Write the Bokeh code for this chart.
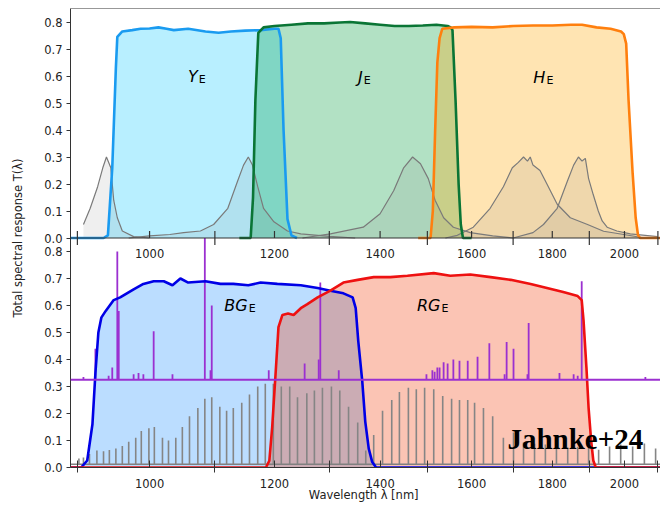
from bokeh.plotting import figure
from bokeh.models import Range1d, FixedTicker, CustomJSTickFormatter, PrintfTickFormatter, Span
from bokeh.core.properties import value
from bokeh.embed import file_html
from bokeh.resources import INLINE

# ---------------- data ----------------
X_MIN, X_MAX = 891, 2108
MAJOR_TICKS = [1000, 1200, 1400, 1600, 1800, 2000]
MINOR_TICKS = [900, 1100, 1300, 1500, 1700, 1900, 2100]
Y_TICKS = [0.0, 0.1, 0.2, 0.3, 0.4, 0.5, 0.6, 0.7, 0.8]

# top panel filters
YE_WL = [891, 935, 941, 947, 952, 954, 961, 975, 987, 1000, 1013, 1025, 1036, 1058, 1085, 1106, 1126, 1150, 1176, 1200, 1207, 1211, 1216, 1223, 1230, 1240]
YE_T = [0, 0, 0.01, 0.26, 0.63, 0.745, 0.765, 0.77, 0.775, 0.776, 0.78, 0.775, 0.77, 0.775, 0.765, 0.76, 0.765, 0.768, 0.77, 0.775, 0.775, 0.74, 0.4, 0.07, 0.01, 0]

JE_WL = [1140, 1159, 1163, 1167, 1172, 1181, 1200, 1230, 1260, 1290, 1320, 1340, 1370, 1400, 1430, 1460, 1490, 1520, 1545, 1552, 1556, 1563, 1570, 1575, 1580, 1600]
JE_T = [0, 0, 0.15, 0.51, 0.76, 0.78, 0.785, 0.79, 0.795, 0.795, 0.798, 0.80, 0.795, 0.79, 0.785, 0.785, 0.787, 0.79, 0.785, 0.78, 0.77, 0.51, 0.2, 0.05, 0.0, 0]

HE_WL = [1480, 1507, 1512, 1517, 1522, 1527, 1533, 1560, 1600, 1650, 1700, 1750, 1800, 1850, 1880, 1920, 1960, 1990, 1998, 2005, 2012, 2024, 2033, 2040, 2046, 2108]
HE_T = [0, 0, 0.1, 0.39, 0.65, 0.74, 0.775, 0.78, 0.782, 0.78, 0.785, 0.787, 0.787, 0.79, 0.79, 0.78, 0.775, 0.765, 0.755, 0.72, 0.51, 0.24, 0.075, 0.01, 0, 0]

# top panel gray profiles
G1_WL = [908, 917, 927, 934, 939, 945, 949, 954, 961, 977, 1000]
G1_T = [0.05, 0.11, 0.19, 0.26, 0.30, 0.26, 0.14, 0.075, 0.026, 0.005, 0.0]
G2_WL = [970, 1000, 1030, 1051, 1077, 1098, 1121, 1137, 1147, 1155, 1162, 1171, 1181, 1199, 1223, 1247, 1300, 1350]
G2_T = [0.0, 0.008, 0.013, 0.02, 0.026, 0.05, 0.11, 0.21, 0.27, 0.30, 0.27, 0.19, 0.11, 0.06, 0.026, 0.015, 0.006, 0.0]
G3_WL = [1250, 1302, 1366, 1400, 1428, 1449, 1468, 1485, 1502, 1517, 1536, 1558, 1597, 1650, 1700]
G3_T = [0.0, 0.015, 0.04, 0.09, 0.175, 0.26, 0.30, 0.275, 0.22, 0.14, 0.075, 0.04, 0.02, 0.008, 0.0]
G4_WL = [1540, 1567, 1604, 1644, 1676, 1698, 1713, 1726, 1736, 1743, 1750, 1768, 1786, 1813, 1848, 1895, 1940, 1998, 2060]
G4_T = [0.0, 0.01, 0.04, 0.11, 0.19, 0.26, 0.28, 0.30, 0.285, 0.30, 0.27, 0.25, 0.20, 0.125, 0.075, 0.05, 0.025, 0.013, 0.0]
G5_WL = [1700, 1750, 1777, 1813, 1840, 1857, 1870, 1880, 1889, 1898, 1911, 1925, 1936, 1950, 1978, 2017, 2099]
G5_T = [0.0, 0.02, 0.05, 0.11, 0.21, 0.27, 0.30, 0.285, 0.295, 0.22, 0.16, 0.10, 0.063, 0.04, 0.026, 0.015, 0.005]

# bottom panel filters
BG_WL = [891, 905, 913, 920, 924, 928, 932, 938, 949, 958, 977, 991, 1006, 1021, 1034, 1046, 1058, 1085, 1109, 1130, 1155, 1176, 1205, 1247, 1278, 1302, 1327, 1345, 1351, 1356, 1364, 1370, 1377, 1384, 1392, 2108]
BG_T = [0, 0, 0.026, 0.16, 0.35, 0.50, 0.555, 0.58, 0.62, 0.63, 0.66, 0.68, 0.69, 0.69, 0.675, 0.70, 0.685, 0.69, 0.68, 0.68, 0.675, 0.685, 0.68, 0.675, 0.665, 0.655, 0.645, 0.63, 0.59, 0.47, 0.32, 0.17, 0.07, 0.02, 0.0, 0.0]
RG_WL = [891, 1185, 1191, 1196, 1202, 1207, 1214, 1224, 1234, 1247, 1259, 1278, 1302, 1327, 1355, 1387, 1421, 1457, 1514, 1551, 1597, 1645, 1694, 1744, 1786, 1829, 1868, 1879, 1884, 1892, 1898, 1905, 1911, 1918, 2108]
RG_T = [0, 0, 0.025, 0.15, 0.35, 0.52, 0.565, 0.57, 0.565, 0.59, 0.605, 0.63, 0.655, 0.685, 0.695, 0.705, 0.705, 0.71, 0.72, 0.71, 0.715, 0.705, 0.695, 0.68, 0.665, 0.65, 0.635, 0.62, 0.545, 0.37, 0.22, 0.10, 0.026, 0.0, 0.0]

# gray comb lines (bottom panel)
COMB_BASE = 0.012
COMB_WL = [902, 908, 916, 926, 935, 943, 952, 961, 970, 980, 988, 999, 1007, 1019, 1028, 1039, 1049, 1060, 1073, 1084, 1095, 1108, 1119, 1130, 1144, 1157, 1171, 1184, 1198, 1212, 1227, 1241, 1258, 1272, 1287, 1304, 1320, 1337, 1355, 1371, 1387, 1405, 1424, 1440, 1459, 1476, 1494, 1514, 1534, 1554, 1572, 1591, 1607, 1628, 1650, 1676, 1701, 1726, 1754, 1782, 1811, 1841, 1868, 1898, 1926, 1957, 1989, 2024, 2059, 2093]
COMB_T = [0.033, 0.037, 0.05, 0.063, 0.06, 0.065, 0.07, 0.08, 0.095, 0.11, 0.135, 0.145, 0.15, 0.11, 0.10, 0.11, 0.15, 0.19, 0.22, 0.255, 0.26, 0.225, 0.21, 0.22, 0.24, 0.27, 0.30, 0.31, 0.31, 0.30, 0.30, 0.26, 0.275, 0.285, 0.295, 0.30, 0.285, 0.225, 0.167, 0.063, 0.12, 0.21, 0.25, 0.28, 0.295, 0.29, 0.295, 0.29, 0.265, 0.255, 0.25, 0.25, 0.24, 0.22, 0.19, 0.11, 0.13, 0.093, 0.088, 0.085, 0.07, 0.074, 0.077, 0.074, 0.066, 0.078, 0.085, 0.078, 0.089, 0.07]

# purple emission spectrum (bottom panel)
PURPLE_BASE = 0.325
PURPLE_WL = [908, 924, 942, 947, 954, 956, 977, 984, 991, 1006, 1034, 1084, 1093, 1095, 1190, 1254, 1280, 1283, 1318, 1498, 1511, 1516, 1522, 1527, 1536, 1545, 1558, 1572, 1591, 1614, 1642, 1679, 1684, 1701, 1736, 1739, 1819, 1857, 1868, 1879, 2062]
PURPLE_T = [0.335, 0.44, 0.34, 0.37, 0.80, 0.58, 0.345, 0.35, 0.345, 0.505, 0.345, 0.85, 0.36, 0.60, 0.36, 0.385, 0.40, 0.685, 0.36, 0.345, 0.36, 0.355, 0.37, 0.37, 0.39, 0.385, 0.40, 0.395, 0.395, 0.41, 0.46, 0.345, 0.465, 0.44, 0.345, 0.535, 0.35, 0.345, 0.34, 0.69, 0.335]

# band labels: (main, sub, wavelength of main's right edge, baseline)
TOP_LABELS = [("Y", "E", 1073, 0.60), ("J", "E", 1365, 0.595), ("H", "E", 1782, 0.595)]
BOT_LABELS = [("BG", "E", 1154, 0.60), ("RG", "E", 1529, 0.60)]

# ---------------- layout ----------------
FIG_W, FIG_H = 660, 505
BORDER_L, BORDER_T, BORDER_B = 70, 8, 38
FRAME_H = FIG_H - BORDER_T - BORDER_B
PANEL = 0.85
PX = FRAME_H / (2 * PANEL)   # pixels per unit of transmission

FONT = "DejaVu Sans"
AX_COL = "#333333"
TXT_COL = "#222222"

p = figure(width=FIG_W, height=FIG_H, x_axis_type="log",
           x_range=Range1d(X_MIN, X_MAX), y_range=Range1d(0, 2 * PANEL),
           output_backend="svg", toolbar_location=None,
           min_border_left=BORDER_L, min_border_right=0, min_border_top=BORDER_T,
           min_border_bottom=BORDER_B)
p.extra_y_ranges = {"top": Range1d(-PANEL, PANEL)}
p.xgrid.visible = False
p.ygrid.visible = False
p.outline_line_color = None
p.background_fill_color = "white"
p.border_fill_color = "white"

# x axis (bottom)
xa = p.xaxis[0]
xa.ticker = FixedTicker(ticks=MAJOR_TICKS, minor_ticks=MINOR_TICKS)
xa.formatter = PrintfTickFormatter(format="%d")
xa.major_tick_in = 7
xa.major_tick_out = 0
xa.minor_tick_in = 7
xa.minor_tick_out = 5
xa.major_label_standoff = 6
xa.axis_line_color = AX_COL
xa.major_tick_line_color = AX_COL
xa.minor_tick_line_color = AX_COL
xa.major_label_text_font = FONT
xa.major_label_text_font_size = "11.5px"
xa.major_label_text_color = TXT_COL
xa.axis_label = "Wavelength λ  [nm]"
xa.axis_label_text_font = FONT
xa.axis_label_text_font_size = "11.5px"
xa.axis_label_text_font_style = "normal"
xa.axis_label_text_color = TXT_COL
xa.axis_label_standoff = -3

# y axis (left) covering both panels
ya = p.yaxis[0]
ya.ticker = FixedTicker(ticks=Y_TICKS + [round(PANEL + t, 6) for t in Y_TICKS], minor_ticks=[])
ya.formatter = CustomJSTickFormatter(args=dict(off=PANEL),
    code="const v = tick >= off - 1e-9 ? tick - off : tick; return v.toFixed(1);")
ya.major_tick_in = 0
ya.major_tick_out = 4
ya.major_label_standoff = 4
ya.axis_line_color = AX_COL
ya.major_tick_line_color = AX_COL
ya.major_label_text_font = FONT
ya.major_label_text_font_size = "11.5px"
ya.major_label_text_color = TXT_COL
ya.axis_label = "Total spectral response T(λ)"
ya.axis_label_text_font = FONT
ya.axis_label_text_font_size = "11.5px"
ya.axis_label_text_font_style = "normal"
ya.axis_label_text_color = TXT_COL
ya.axis_label_standoff = 16

# ---------------- top panel ----------------
fills_top = [(YE_WL, YE_T, "#00c4ff", 0.28), (JE_WL, JE_T, "#009b3c", 0.3), (HE_WL, HE_T, "#ffa500", 0.3)]
for wl, t, c, a in fills_top:
    p.varea(x=wl, y1=0, y2=t, fill_color=c, fill_alpha=a, y_range_name="top")

grays = [(G1_WL, G1_T), (G2_WL, G2_T), (G3_WL, G3_T), (G4_WL, G4_T), (G5_WL, G5_T)]
for wl, t in grays:
    p.varea(x=wl, y1=0, y2=t, fill_color="#808080", fill_alpha=0.13, y_range_name="top")
for wl, t in grays:
    p.line(x=wl, y=t, line_color="#7a7a7a", line_width=1.2, y_range_name="top")

lines_top = [(YE_WL, YE_T, "#1a9bf0"), (JE_WL, JE_T, "#0a7535"), (HE_WL, HE_T, "#ff7f0e")]
for wl, t, c in lines_top:
    p.line(x=wl, y=t, line_color=c, line_width=2.6, y_range_name="top")

for main, sub, wl, yb in TOP_LABELS:
    p.text(x=[wl], y=[yb], text=[main], text_font=value(FONT), text_font_style="italic",
           text_font_size="16px", text_align="right", text_baseline="alphabetic",
           text_color="black", y_range_name="top")
    p.text(x=[wl], y=[yb], text=[sub], text_font=value(FONT), text_font_size="11px",
           text_align="left", text_baseline="alphabetic", x_offset=1, y_offset=3,
           text_color="black", y_range_name="top")

# ---------------- bottom panel ----------------
p.varea(x=BG_WL, y1=0, y2=BG_T, fill_color="#1e90ff", fill_alpha=0.3)
p.varea(x=RG_WL, y1=0, y2=RG_T, fill_color="#f23a05", fill_alpha=0.3)

p.line(x=[X_MIN, X_MAX], y=[COMB_BASE, COMB_BASE], line_color="#808080", line_width=1.5)
p.segment(x0=COMB_WL, y0=[COMB_BASE] * len(COMB_WL), x1=COMB_WL, y1=COMB_T,
          line_color="#858585", line_width=1.6)

p.add_layout(Span(location=PURPLE_BASE, dimension="width", line_color="#9b30d0", line_width=1.8))
p.segment(x0=PURPLE_WL, y0=[PURPLE_BASE] * len(PURPLE_WL), x1=PURPLE_WL, y1=PURPLE_T,
          line_color="#9b30d0", line_width=1.8)

p.line(x=BG_WL, y=BG_T, line_color="#0000e6", line_width=2.6)
p.line(x=RG_WL, y=RG_T, line_color="#ee1111", line_width=2.6)

for main, sub, wl, yb in BOT_LABELS:
    p.text(x=[wl], y=[yb], text=[main], text_font=value(FONT), text_font_style="italic",
           text_font_size="16px", text_align="right", text_baseline="alphabetic",
           text_color="black")
    p.text(x=[wl], y=[yb], text=[sub], text_font=value(FONT), text_font_size="11px",
           text_align="left", text_baseline="alphabetic", x_offset=1, y_offset=3,
           text_color="black")

p.text(x=[1686], y=[0.107], text=["Jahnke+24"], text_font=value("Liberation Serif"),
       text_font_style="bold", text_font_size="29px", text_align="left",
       text_baseline="alphabetic", text_color="black")

# ---------------- middle axis (top panel's x axis) ----------------
p.add_layout(Span(location=0, dimension="width", y_range_name="top", line_color=AX_COL, line_width=1.2))
p.add_layout(Span(location=PANEL, dimension="width", y_range_name="top", line_color=AX_COL, line_width=1.2))
tick = 7 / PX
p.segment(x0=MAJOR_TICKS, y0=[0] * len(MAJOR_TICKS), x1=MAJOR_TICKS, y1=[tick] * len(MAJOR_TICKS),
          line_color=AX_COL, line_width=1.2, y_range_name="top")
p.segment(x0=MINOR_TICKS, y0=[-tick] * len(MINOR_TICKS), x1=MINOR_TICKS, y1=[tick] * len(MINOR_TICKS),
          line_color=AX_COL, line_width=1.2, y_range_name="top")
p.text(x=MAJOR_TICKS, y=[-15 / PX] * len(MAJOR_TICKS), text=[str(t) for t in MAJOR_TICKS],
       text_font=value(FONT), text_font_size="11.5px", text_align="center",
       text_baseline="middle", text_color=TXT_COL, y_range_name="top")

open("out.html", "w").write(file_html(p, INLINE))
